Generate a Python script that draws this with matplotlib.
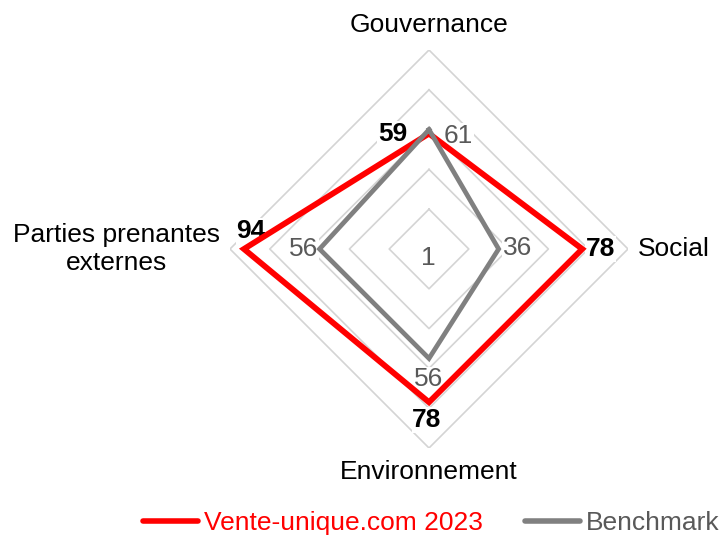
import numpy as np
import matplotlib
matplotlib.use('Agg')
import matplotlib.pyplot as plt
from matplotlib.lines import Line2D

plt.rcParams['font.family'] = ['Liberation Sans', 'DejaVu Sans']

# data
categories = ['Gouvernance', 'Social', 'Environnement', 'Parties prenantes\nexternes']
vente_unique = [59, 78, 78, 94]
benchmark = [61, 36, 56, 56]
grid_levels = [21, 41, 61, 81, 101]
series_names = ['Vente-unique.com 2023', 'Benchmark']

RED = '#ff0000'
GREY = '#808080'
LABGREY = '#595959'
GRIDC = '#d4d4d4'
FS = 19

fig = plt.figure(figsize=(7.23, 5.36), dpi=100)
# center of the radar at (429, 249) px, outer radius 199 px
ax = fig.add_axes([230 / 723, 88 / 536, 398 / 723, 398 / 536], projection='polar')
ax.set_theta_zero_location('N')
ax.set_theta_direction(-1)
ax.set_ylim(1, 101)
ax.set_axis_off()

theta = np.arange(len(categories)) * 2 * np.pi / len(categories)
theta_c = np.append(theta, theta[0])

# grid diamonds
for lv in grid_levels:
    ax.plot(theta_c, [lv] * len(theta_c), color=GRIDC, lw=1.2, zorder=1)

# series
ax.plot(theta_c, vente_unique + vente_unique[:1], color=RED, lw=4.2,
        solid_joinstyle='miter', zorder=4)
ax.plot(theta_c, benchmark + benchmark[:1], color=GREY, lw=3.4,
        solid_joinstyle='miter', zorder=5)

box = dict(facecolor='white', edgecolor='none', pad=0.5)

# data labels: offsets in pixels from the vertex
red_offsets = [(-22, 0, 'right', 'center'), (4, 0, 'left', 'center'),
               (-2, -18, 'center', 'center'), (7, 18, 'center', 'center')]
grey_offsets = [(15, -6, 'left', 'center'), (4, 1, 'left', 'center'),
                (0, -21, 'center', 'center'), (-1, 0, 'right', 'center')]

for t, v, (dx, dy, ha, va) in zip(theta, vente_unique, red_offsets):
    ax.annotate(str(v), (t, v), xytext=(dx, dy), textcoords='offset pixels',
                ha=ha, va=va, fontsize=FS, fontweight='bold', color='black',
                bbox=box, zorder=3, annotation_clip=False)
for t, v, (dx, dy, ha, va) in zip(theta, benchmark, grey_offsets):
    ax.annotate(str(v), (t, v), xytext=(dx, dy), textcoords='offset pixels',
                ha=ha, va=va, fontsize=FS, color=LABGREY,
                bbox=box, zorder=3, annotation_clip=False)

# axis minimum label at the center
ax.annotate('1', (0, 1), xytext=(-1, -9), textcoords='offset pixels',
            ha='center', va='center', fontsize=FS, color=LABGREY, zorder=3)

# category labels
cat_pos = [(0, 224, 'center', 'center'), (np.pi / 2, 209, 'left', 'center'),
           (np.pi, 223, 'center', 'center'), (3 * np.pi / 2, 209, 'right', 'center')]
for name, (t, dpx, ha, va) in zip(categories, cat_pos):
    ax.text(t, 1 + dpx / 199 * 100, name, ha=ha, va=va, fontsize=FS,
            color='black', multialignment='center', linespacing=1.25,
            clip_on=False)

# legend
handles = [Line2D([], [], color=RED, lw=4.0, solid_capstyle='round'),
           Line2D([], [], color=GREY, lw=4.0, solid_capstyle='round')]
leg = fig.legend(handles, series_names, loc='center', bbox_to_anchor=(431 / 723, 1 - 523 / 536),
                 ncol=2, frameon=False, fontsize=FS, handlelength=2.1,
                 handletextpad=0.2, columnspacing=1.6, borderaxespad=0)
leg.get_texts()[0].set_color(RED)
leg.get_texts()[1].set_color(LABGREY)

fig.savefig('out.png', dpi=100)
